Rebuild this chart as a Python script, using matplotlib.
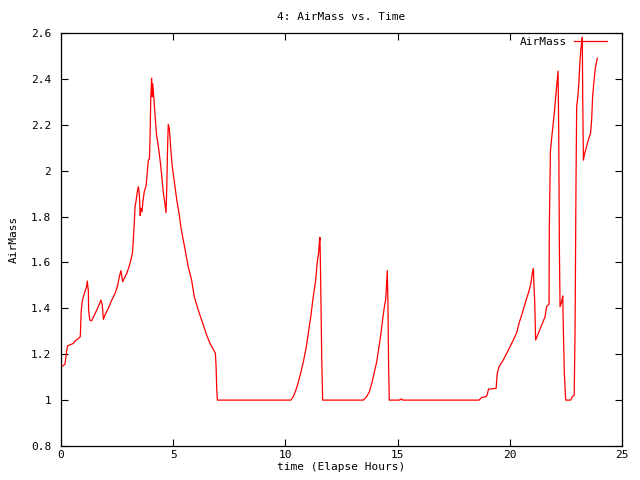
import matplotlib
matplotlib.use("Agg")
import matplotlib.pyplot as plt

# elapsed hours / airmass
hours = [
    0.0, 0.18, 0.25, 0.30, 0.55, 0.62, 0.77, 0.86, 0.90, 0.95, 1.04, 1.14, 1.17,
    1.22, 1.23, 1.28, 1.37, 1.52, 1.66, 1.78, 1.84, 1.89, 1.96, 2.11, 2.26, 2.41,
    2.52, 2.60, 2.67, 2.75, 2.82, 2.93, 3.03, 3.12, 3.18, 3.22, 3.27, 3.30, 3.34,
    3.40, 3.45, 3.49, 3.53, 3.56, 3.61, 3.65, 3.71, 3.79, 3.83, 3.89, 3.94, 3.97,
    4.00, 4.04, 4.07, 4.09, 4.14, 4.19, 4.26, 4.34, 4.41, 4.49, 4.56, 4.63, 4.68,
    4.71, 4.75, 4.78, 4.83, 4.89, 4.96, 5.05, 5.16, 5.26, 5.35, 5.45, 5.56, 5.67,
    5.82, 5.94, 6.05, 6.19, 6.34, 6.49, 6.64, 6.79, 6.88, 6.91, 6.94, 6.97,
    10.24, 10.35, 10.47, 10.58, 10.68, 10.80, 10.92, 11.02, 11.13, 11.24, 11.35,
    11.42, 11.48, 11.51, 11.54, 11.57, 11.62, 11.66,
    13.47, 13.62, 13.74, 13.85, 13.95, 14.07, 14.17, 14.26, 14.33, 14.41, 14.47,
    14.51, 14.54, 14.57, 14.60, 14.63,
    15.10, 15.12, 15.20, 15.22,
    18.63, 18.75, 18.94, 19.00, 19.05, 19.39, 19.44, 19.52, 19.71, 19.86, 20.01,
    20.16, 20.31, 20.41, 20.53, 20.63, 20.75, 20.86, 20.94, 21.00, 21.05, 21.08,
    21.11, 21.15, 21.27, 21.42, 21.57, 21.64, 21.75, 21.76, 21.81, 21.85, 21.89,
    21.94, 21.98, 22.03, 22.07, 22.12, 22.15, 22.16, 22.18, 22.21, 22.24, 22.31,
    22.36, 22.38, 22.43, 22.49, 22.71, 22.79, 22.87, 22.91, 22.95, 22.98, 23.04,
    23.08, 23.13, 23.17, 23.20, 23.23, 23.25, 23.28, 23.32, 23.40, 23.50, 23.60,
    23.65, 23.69, 23.75, 23.81, 23.90,
]
airmass = [
    1.143, 1.157, 1.214, 1.237, 1.247, 1.257, 1.269, 1.276, 1.388, 1.433, 1.465,
    1.494, 1.519, 1.475, 1.392, 1.349, 1.346, 1.378, 1.407, 1.436, 1.414, 1.352,
    1.371, 1.400, 1.436, 1.465, 1.498, 1.538, 1.564, 1.516, 1.531, 1.552, 1.581,
    1.613, 1.640, 1.693, 1.780, 1.843, 1.865, 1.908, 1.930, 1.897, 1.804, 1.836,
    1.821, 1.865, 1.908, 1.934, 1.974, 2.046, 2.050, 2.151, 2.315, 2.403, 2.322,
    2.378, 2.315, 2.243, 2.155, 2.104, 2.050, 1.977, 1.904, 1.858, 1.817, 1.911,
    2.102, 2.202, 2.182, 2.097, 2.017, 1.952, 1.872, 1.814, 1.749, 1.698, 1.640,
    1.581, 1.523, 1.450, 1.414, 1.371, 1.327, 1.284, 1.247, 1.221, 1.204, 1.148,
    1.048, 1.000,
    1.000, 1.015, 1.044, 1.080, 1.117, 1.167, 1.226, 1.291, 1.363, 1.450, 1.523,
    1.603, 1.642, 1.683, 1.709, 1.531, 1.175, 1.000,
    1.000, 1.015, 1.036, 1.073, 1.117, 1.167, 1.233, 1.291, 1.349, 1.407, 1.439,
    1.509, 1.564, 1.422, 1.138, 1.000,
    1.000, 1.004, 1.004, 1.000,
    1.000, 1.012, 1.015, 1.026, 1.048, 1.051, 1.117, 1.145, 1.175, 1.204, 1.233,
    1.262, 1.295, 1.334, 1.371, 1.404, 1.443, 1.477, 1.509, 1.552, 1.574, 1.494,
    1.429, 1.262, 1.291, 1.327, 1.363, 1.407, 1.419, 1.741, 2.083, 2.126, 2.163,
    2.209, 2.250, 2.304, 2.352, 2.403, 2.434, 2.350, 2.177, 1.661, 1.407, 1.429,
    1.454, 1.342, 1.117, 1.000, 1.000, 1.015, 1.022, 1.327, 1.945, 2.279, 2.330,
    2.388, 2.482, 2.533, 2.555, 2.581, 2.315, 2.046, 2.068, 2.097, 2.134, 2.163,
    2.225, 2.322, 2.388, 2.446, 2.490,
]

x_ticks = [0, 5, 10, 15, 20, 25]
y_ticks = [0.8, 1.0, 1.2, 1.4, 1.6, 1.8, 2.0, 2.2, 2.4, 2.6]
y_labels = ["0.8", "1", "1.2", "1.4", "1.6", "1.8", "2", "2.2", "2.4", "2.6"]

plt.rcParams["font.family"] = ["DejaVu Sans Mono"]
FS = 8

fig = plt.figure(figsize=(6.4, 4.8), dpi=100)
ax = fig.add_axes([61 / 640, 1 - 446 / 480, 561 / 640, 413 / 480])

ax.plot(hours, airmass, color="red", linewidth=0.9, label="AirMass")

ax.set_xlim(0, 25)
ax.set_ylim(0.8, 2.6)
ax.set_xticks(x_ticks)
ax.set_yticks(y_ticks)
ax.set_yticklabels(y_labels)
ax.tick_params(direction="in", length=5, width=0.8, top=True, right=True,
               labelsize=FS)
ax.tick_params(axis="x", pad=3)
ax.tick_params(axis="y", pad=7)
for s in ax.spines.values():
    s.set_linewidth(0.9)

ax.set_title("4: AirMass vs. Time", fontsize=FS, pad=9)
ax.set_xlabel("time (Elapse Hours)", fontsize=FS, labelpad=1)
ax.set_ylabel("AirMass", fontsize=FS, labelpad=9)

ax.legend(loc="upper right", bbox_to_anchor=(0.973, 0.99), frameon=False,
          markerfirst=False, handlelength=3.0, handletextpad=0.6,
          borderaxespad=0, borderpad=0, fontsize=FS)

fig.savefig("out.png", dpi=100)
